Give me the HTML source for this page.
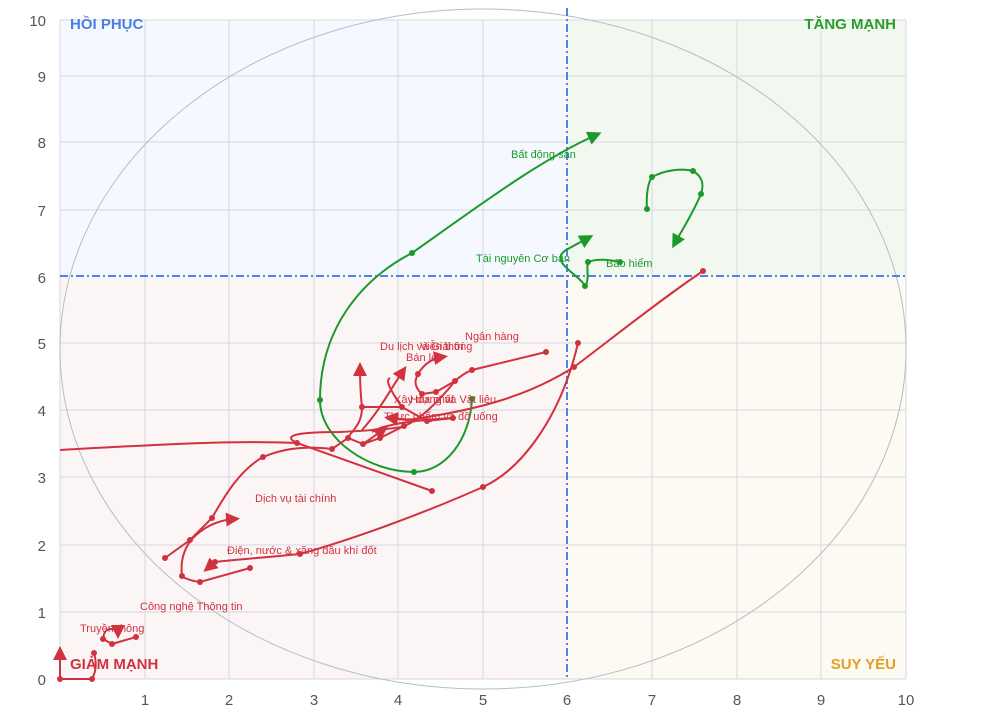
<!DOCTYPE html>
<html><head><meta charset="utf-8"><style>
body{margin:0;background:#fff;}
svg{display:block;font-family:"Liberation Sans",sans-serif;}
</style></head><body>
<svg width="992" height="715" viewBox="0 0 992 715" xmlns="http://www.w3.org/2000/svg">
<defs>
<marker id="ar" markerWidth="16" markerHeight="16" refX="8" refY="7" orient="auto" markerUnits="userSpaceOnUse"><path d="M0,0 L14,7 L0,14 Z" fill="#d0323f"/></marker>
<marker id="ag" markerWidth="16" markerHeight="16" refX="8" refY="7" orient="auto" markerUnits="userSpaceOnUse"><path d="M0,0 L14,7 L0,14 Z" fill="#1a9a2a"/></marker>
</defs>
<rect x="60" y="20" width="507" height="256" fill="#f5f8fe"/>
<rect x="567" y="20" width="339" height="256" fill="#f2f8f0"/>
<rect x="60" y="276" width="507" height="403" fill="#fcf5f6"/>
<rect x="567" y="276" width="339" height="403" fill="#fdfaf3"/>
<g stroke="#d6d8e0" stroke-width="1">
<line x1="145" y1="20" x2="145" y2="679"/><line x1="229" y1="20" x2="229" y2="679"/><line x1="314" y1="20" x2="314" y2="679"/><line x1="398" y1="20" x2="398" y2="679"/><line x1="483" y1="20" x2="483" y2="679"/><line x1="652" y1="20" x2="652" y2="679"/><line x1="737" y1="20" x2="737" y2="679"/><line x1="821" y1="20" x2="821" y2="679"/><line x1="906" y1="20" x2="906" y2="679"/><line x1="60" y1="20" x2="60" y2="679"/>
<line x1="60" y1="20" x2="906" y2="20"/><line x1="60" y1="76" x2="906" y2="76"/><line x1="60" y1="142" x2="906" y2="142"/><line x1="60" y1="210" x2="906" y2="210"/><line x1="60" y1="343" x2="906" y2="343"/><line x1="60" y1="410" x2="906" y2="410"/><line x1="60" y1="477" x2="906" y2="477"/><line x1="60" y1="545" x2="906" y2="545"/><line x1="60" y1="612" x2="906" y2="612"/><line x1="60" y1="679" x2="906" y2="679"/>
</g>
<ellipse cx="483" cy="349" rx="423" ry="340" fill="none" stroke="#b8bcc6" stroke-width="1"/>
<g stroke="#4a86e8" stroke-width="2" stroke-dasharray="8,3,2,3">
<line x1="567" y1="8" x2="567" y2="679"/><line x1="60" y1="276" x2="906" y2="276"/>
</g>
<g fill="#555" font-size="15" text-anchor="end">
<text x="46" y="26">10</text><text x="46" y="82">9</text><text x="46" y="148">8</text><text x="46" y="216">7</text><text x="46" y="283">6</text><text x="46" y="349">5</text><text x="46" y="416">4</text><text x="46" y="483">3</text><text x="46" y="551">2</text><text x="46" y="618">1</text><text x="46" y="685">0</text>
</g>
<g fill="#555" font-size="15" text-anchor="middle">
<text x="145" y="705">1</text><text x="229" y="705">2</text><text x="314" y="705">3</text><text x="398" y="705">4</text><text x="483" y="705">5</text><text x="567" y="705">6</text><text x="652" y="705">7</text><text x="737" y="705">8</text><text x="821" y="705">9</text><text x="906" y="705">10</text>
</g>
<g font-size="15" font-weight="bold">
<text x="70" y="29" fill="#4a7fe0">HỒI PHỤC</text>
<text x="896" y="29" fill="#2a9d2a" text-anchor="end">TĂNG MẠNH</text>
<text x="70" y="669" fill="#d0323f">GIẢM MẠNH</text>
<text x="896" y="669" fill="#e0a020" text-anchor="end">SUY YẾU</text>
</g>
<g fill="none" stroke="#1a9a2a" stroke-width="2">
<path d="M472,399 C470,440 445,472 414,472 C370,472 320,440 320,400 C320,330 360,280 412,253 C480,205 540,160 596,135" marker-end="url(#ag)"/>
<path d="M585,286 C580,275 548,262 566,250 L588,238" marker-end="url(#ag)"/>
<path d="M585,286 C590,280 586,268 588,262 C598,258 610,260 620,262"/>
<path d="M647,209 C646,195 648,182 652,177 C665,170 682,168 693,171 C705,178 703,188 701,194 C692,215 682,230 675,243" marker-end="url(#ag)"/>
</g>
<g fill="#1a9a2a"><circle cx="472" cy="399" r="3"/><circle cx="414" cy="472" r="3"/><circle cx="320" cy="400" r="3"/><circle cx="412" cy="253" r="3"/><circle cx="585" cy="286" r="3"/><circle cx="588" cy="262" r="3"/><circle cx="620" cy="262" r="3"/><circle cx="647" cy="209" r="3"/><circle cx="652" cy="177" r="3"/><circle cx="693" cy="171" r="3"/><circle cx="701" cy="194" r="3"/></g>
<g fill="none" stroke="#d0323f" stroke-width="2">
<path d="M703,271 C660,300 610,340 574,367 C530,395 480,410 407,420 L390,418" marker-end="url(#ar)"/>
<path d="M578,343 C560,420 520,470 483,487 C420,515 350,540 300,554 C260,558 230,560 215,562 L208,568" marker-end="url(#ar)"/>
<path d="M432,491 L297,443 C280,435 300,432 340,432 C380,430 400,428 404,426 C420,420 440,400 455,381 C465,372 470,371 472,370 L546,352"/>
<path d="M422,394 C412,385 416,378 418,374 C425,362 435,358 442,357" marker-end="url(#ar)"/>
<path d="M422,394 L436,392 L455,381"/>
<path d="M60,450 C150,445 230,440 297,443"/>
<path d="M165,558 L190,540 L212,518 C225,495 240,470 263,457 C280,450 300,445 332,449 L348,438 L363,444 L380,438 L404,426"/>
<path d="M250,568 L200,582 C185,580 180,575 182,576 C180,560 185,548 191,540 C205,525 220,520 234,519" marker-end="url(#ar)"/>
<path d="M362,407 C362,425 352,430 348,438 M362,407 C360,390 360,378 360,368" marker-end="url(#ar)"/>
<path d="M402,407 C390,390 385,380 390,378 M402,407 L362,407"/>
<path d="M362,430 C380,410 390,390 403,371" marker-end="url(#ar)"/>
<path d="M453,418 C420,420 400,422 380,428 L372,432"/>
<path d="M453,418 L427,421 L402,407"/>
<path d="M363,444 L383,430" marker-end="url(#ar)"/>
<path d="M432,421 C410,420 392,418 388,418"/>
<path d="M60,679 L92,679 C97,670 96,660 94,653"/>
<path d="M60,679 L60,652" marker-end="url(#ar)"/>
<path d="M136,637 L112,644 L103,639 C104,628 110,628 118,630 L118,633" marker-end="url(#ar)"/>
</g>
<g fill="#d0323f">
<circle cx="703" cy="271" r="3"/><circle cx="574" cy="367" r="3"/><circle cx="578" cy="343" r="3"/><circle cx="483" cy="487" r="3"/><circle cx="300" cy="554" r="3"/><circle cx="215" cy="562" r="3"/><circle cx="432" cy="491" r="3"/><circle cx="297" cy="443" r="3"/><circle cx="546" cy="352" r="3"/><circle cx="472" cy="370" r="3"/><circle cx="455" cy="381" r="3"/><circle cx="436" cy="392" r="3"/><circle cx="422" cy="394" r="3"/><circle cx="418" cy="374" r="3"/><circle cx="165" cy="558" r="3"/><circle cx="190" cy="540" r="3"/><circle cx="212" cy="518" r="3"/><circle cx="263" cy="457" r="3"/><circle cx="332" cy="449" r="3"/><circle cx="348" cy="438" r="3"/><circle cx="363" cy="444" r="3"/><circle cx="380" cy="438" r="3"/><circle cx="404" cy="426" r="3"/><circle cx="250" cy="568" r="3"/><circle cx="200" cy="582" r="3"/><circle cx="182" cy="576" r="3"/><circle cx="362" cy="407" r="3"/><circle cx="402" cy="407" r="3"/><circle cx="453" cy="418" r="3"/><circle cx="427" cy="421" r="3"/><circle cx="60" cy="679" r="3"/><circle cx="92" cy="679" r="3"/><circle cx="94" cy="653" r="3"/><circle cx="136" cy="637" r="3"/><circle cx="112" cy="644" r="3"/><circle cx="103" cy="639" r="3"/>
</g>
<g font-size="11" fill="#d0323f">
<text x="380" y="350">Du lịch và Giải trí</text><text x="420" y="350">Viễn thông</text>
<text x="406" y="361">Bán lẻ</text>
<text x="465" y="340">Ngân hàng</text>
<text x="394" y="403">Xây dựng và Vật liệu</text><text x="410" y="403">Hóa chất</text>
<text x="384" y="420">Thực phẩm và đồ uống</text>
<text x="255" y="502">Dịch vụ tài chính</text>
<text x="227" y="554">Điện, nước &amp; xăng dầu khí đốt</text>
<text x="140" y="610">Công nghệ Thông tin</text>
<text x="80" y="632">Truyền thông</text>
</g>
<g font-size="11" fill="#1a9a2a">
<text x="511" y="158">Bất động sản</text>
<text x="476" y="262">Tài nguyên Cơ bản</text>
<text x="606" y="267">Bảo hiểm</text>
</g>
</svg>
</body></html>
